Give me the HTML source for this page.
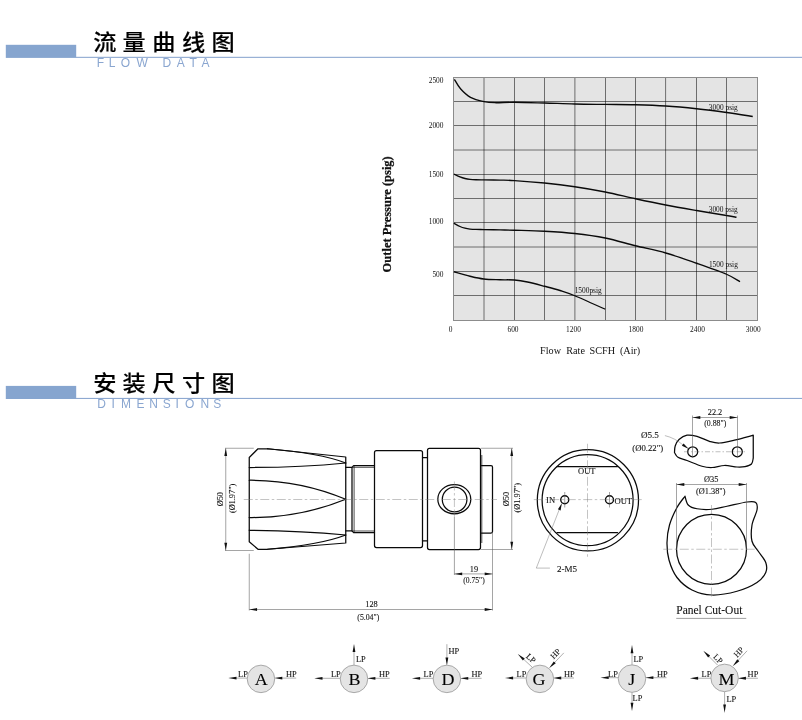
<!DOCTYPE html>
<html lang="zh-CN">
<head>
<meta charset="utf-8">
<title>流量曲线图 / 安装尺寸图</title>
<style>
html,body{margin:0;padding:0;background:#fff;}
body{width:802px;height:720px;overflow:hidden;position:relative;font-family:"Liberation Serif","Noto Serif CJK SC",serif;}
svg{position:absolute;left:0;top:0;will-change:transform;}
svg text{font-family:"Liberation Serif",serif;fill:#111;}
svg text.zh{font-family:"Liberation Sans","Noto Sans CJK SC",sans-serif;font-weight:500;fill:#000;stroke:#000;stroke-width:0.15px}
svg text.en{font-family:"Liberation Sans",sans-serif;fill:#8aa6d0}
.k{stroke:#0a0a0a;stroke-width:1.25;fill:none;stroke-linejoin:round;stroke-linecap:round}
.m{stroke:#222;stroke-width:0.8;fill:none}
.t{stroke:#5a5a5a;stroke-width:0.55;fill:none}
.c{stroke:#7a7a7a;stroke-width:0.45;fill:none;stroke-dasharray:9 2.5 2.5 2.5}
.c2{stroke:#707070;stroke-width:0.45;fill:none;stroke-dasharray:5 2 1.5 2}
.g{stroke:#000;stroke-opacity:0.52;stroke-width:1;fill:none}
.gb{stroke:#8c8c8c;stroke-width:1;fill:none}
.cv{stroke:#0a0a0a;stroke-width:1.35;fill:none;stroke-linecap:butt}
.b{font-weight:bold;stroke:#111;stroke-width:0.25px}
.l{stroke:#7a7a7a;stroke-width:0.5;fill:none}
#side text,#front text,#bracket text,#panel text,#symbols text{stroke:#111;stroke-width:0.1px}
.u{stroke:#777;stroke-width:0.7;fill:none}
.s{stroke:#777;stroke-width:0.6;fill:none}
svg text.big{fill:#000}
</style>
</head>
<body>
<svg width="802" height="720" viewBox="0 0 802 720">

<g class="hdr">
<rect x="5.8" y="44.80" width="70.4" height="13.1" fill="#86a5cf"/>
<rect x="76" y="56.80" width="726" height="1.1" fill="#8ea9d1"/>
<text class="zh" transform="translate(0 49.50) scale(1 0.925)" y="0" x="104.8 134.2 163.8 193.7 223.1" font-size="23.2" text-anchor="middle">流量曲线图</text>
<text class="en" y="66.80" x="100.4 112.1 125.3 142.1 154.0 166.9 180.8 193.1 205.4" font-size="12" text-anchor="middle" xml:space="preserve">FLOW DATA</text>
</g>
<g class="hdr">
<rect x="5.8" y="385.90" width="70.4" height="13.1" fill="#86a5cf"/>
<rect x="76" y="397.90" width="726" height="1.1" fill="#8ea9d1"/>
<text class="zh" transform="translate(0 391.30) scale(1 0.925)" y="0" x="104.8 134.2 163.8 193.7 223.1" font-size="23.2" text-anchor="middle">安装尺寸图</text>
<text class="en" y="408.00" x="101.5 113.2 126.0 140.4 153.5 166.7 177.2 189.6 204.8 217.3" font-size="12" text-anchor="middle" xml:space="preserve">DIMENSIONS</text>
</g>
<g id="chart">
<rect x="453.50" y="77.50" width="304.00" height="243.00" fill="#e4e4e4"/>
<line x1="484.00" y1="77.50" x2="484.00" y2="320.50" class="g"/>
<line x1="514.50" y1="77.50" x2="514.50" y2="320.50" class="g"/>
<line x1="544.50" y1="77.50" x2="544.50" y2="320.50" class="g"/>
<line x1="574.90" y1="77.50" x2="574.90" y2="320.50" class="g"/>
<line x1="605.50" y1="77.50" x2="605.50" y2="320.50" class="g"/>
<line x1="635.50" y1="77.50" x2="635.50" y2="320.50" class="g"/>
<line x1="665.60" y1="77.50" x2="665.60" y2="320.50" class="g"/>
<line x1="696.50" y1="77.50" x2="696.50" y2="320.50" class="g"/>
<line x1="726.50" y1="77.50" x2="726.50" y2="320.50" class="g"/>
<line x1="453.50" y1="101.50" x2="757.50" y2="101.50" class="g"/>
<line x1="453.50" y1="125.50" x2="757.50" y2="125.50" class="g"/>
<line x1="453.50" y1="150.00" x2="757.50" y2="150.00" class="g"/>
<line x1="453.50" y1="174.50" x2="757.50" y2="174.50" class="g"/>
<line x1="453.50" y1="198.50" x2="757.50" y2="198.50" class="g"/>
<line x1="453.50" y1="222.50" x2="757.50" y2="222.50" class="g"/>
<line x1="453.50" y1="247.00" x2="757.50" y2="247.00" class="g"/>
<line x1="453.50" y1="271.50" x2="757.50" y2="271.50" class="g"/>
<line x1="453.50" y1="295.50" x2="757.50" y2="295.50" class="g"/>
<rect x="453.50" y="77.50" width="304.00" height="243.00" class="gb"/>
<path d="M454.40,79.30 C455.42,80.88 457.82,85.75 460.50,88.75 C463.18,91.75 466.58,95.16 470.50,97.30 C474.42,99.44 479.92,100.70 484.00,101.60 C488.08,102.50 489.92,102.59 495.00,102.70 C500.08,102.81 506.25,102.20 514.50,102.25 C522.75,102.30 534.46,102.71 544.50,103.00 C554.54,103.29 564.62,103.77 574.75,104.00 C584.88,104.23 595.12,104.28 605.25,104.40 C615.38,104.53 625.42,104.48 635.50,104.75 C645.58,105.02 655.58,105.33 665.75,106.00 C675.92,106.67 686.38,107.67 696.50,108.75 C706.62,109.83 717.12,111.21 726.50,112.50 C735.88,113.79 748.38,115.83 752.75,116.50" class="cv"/>
<path d="M453.80,174.00 C454.83,174.48 458.13,176.15 460.00,176.90 C461.87,177.65 463.33,178.09 465.00,178.50 C466.67,178.91 468.17,179.14 470.00,179.35 C471.83,179.56 473.67,179.66 476.00,179.75 C478.33,179.84 480.00,179.84 484.00,179.90 C488.00,179.96 494.92,179.99 500.00,180.10 C505.08,180.21 507.08,180.07 514.50,180.55 C521.92,181.03 534.46,181.97 544.50,183.00 C554.54,184.03 564.62,185.25 574.75,186.75 C584.88,188.25 595.12,190.00 605.25,192.00 C615.38,194.00 625.42,196.58 635.50,198.75 C645.58,200.92 655.58,203.04 665.75,205.00 C675.92,206.96 686.38,208.75 696.50,210.50 C706.62,212.25 719.83,214.38 726.50,215.50 C733.17,216.62 734.83,216.96 736.50,217.25" class="cv"/>
<path d="M453.80,223.20 C454.83,223.75 458.13,225.67 460.00,226.50 C461.87,227.33 463.33,227.77 465.00,228.20 C466.67,228.62 468.17,228.84 470.00,229.05 C471.83,229.26 473.67,229.36 476.00,229.45 C478.33,229.54 480.00,229.53 484.00,229.60 C488.00,229.67 494.92,229.74 500.00,229.85 C505.08,229.96 507.08,230.02 514.50,230.25 C521.92,230.48 534.46,230.71 544.50,231.25 C554.54,231.79 564.62,232.38 574.75,233.50 C584.88,234.62 595.12,235.96 605.25,238.00 C615.38,240.04 625.42,243.25 635.50,245.75 C645.58,248.25 655.58,250.08 665.75,253.00 C675.92,255.92 686.38,259.71 696.50,263.25 C706.62,266.79 719.25,271.17 726.50,274.25 C733.75,277.33 737.75,280.50 740.00,281.75" class="cv"/>
<path d="M453.75,271.75 C456.46,272.50 465.00,275.04 470.00,276.25 C475.00,277.46 478.75,278.42 483.75,279.00 C488.75,279.58 494.88,279.58 500.00,279.75 C505.12,279.92 509.92,279.62 514.50,280.00 C519.08,280.38 522.50,280.96 527.50,282.00 C532.50,283.04 539.08,284.83 544.50,286.25 C549.92,287.67 554.96,288.92 560.00,290.50 C565.04,292.08 567.21,292.62 574.75,295.75 C582.29,298.88 600.17,307.00 605.25,309.25" class="cv"/>
<text x="723.30" y="109.50" font-size="7.4" text-anchor="middle" >3000 psig</text>
<text x="723.20" y="211.50" font-size="7.4" text-anchor="middle" >3000 psig</text>
<text x="723.40" y="266.75" font-size="7.4" text-anchor="middle" >1500 psig</text>
<text x="588.20" y="293.00" font-size="7.4" text-anchor="middle" >1500psig</text>
<text x="443.50" y="82.50" font-size="7.4" text-anchor="end" >2500</text>
<text x="443.50" y="127.50" font-size="7.4" text-anchor="end" >2000</text>
<text x="443.50" y="176.75" font-size="7.4" text-anchor="end" >1500</text>
<text x="443.50" y="224.00" font-size="7.4" text-anchor="end" >1000</text>
<text x="443.50" y="276.50" font-size="7.4" text-anchor="end" >500</text>
<text x="450.50" y="332.00" font-size="7.4" text-anchor="middle" >0</text>
<text x="513.00" y="332.00" font-size="7.4" text-anchor="middle" >600</text>
<text x="573.50" y="332.00" font-size="7.4" text-anchor="middle" >1200</text>
<text x="636.00" y="332.00" font-size="7.4" text-anchor="middle" >1800</text>
<text x="697.50" y="332.00" font-size="7.4" text-anchor="middle" >2400</text>
<text x="753.25" y="332.00" font-size="7.4" text-anchor="middle" >3000</text>
<text y="354.4" font-size="10.2" text-anchor="start"><tspan x="540.1">Flow</tspan> <tspan x="566.3">Rate</tspan> <tspan x="589.6">SCFH</tspan> <tspan x="619.9">(Air)</tspan></text>
<text x="390.60" y="214.30" font-size="12.5" text-anchor="middle" transform="rotate(-90 390.60 214.30)" class="b" >Outlet Pressure (psig)</text>
</g>
<g id="side">
<path class="k" d="M249.25,457.5 L258,448.75 L267.5,448.75 L345.75,457 L345.75,543 L267.5,549.25 L258,549.25 L249.25,541.75 Z"/>
<path class="k" d="M249.25,467.5 Q300,467.5 345.75,463"/>
<path class="k" d="M267.5,448.75 Q320,453 345.75,463"/>
<path class="k" d="M249.25,480.25 Q300,480 345.75,499.25 Q300,518 249.25,517.5"/>
<path class="k" d="M249.25,530.25 Q300,530.5 345.75,535"/>
<path class="k" d="M267.5,549.25 Q320,545 345.75,535"/>
<path class="k" d="M345.75,467.4 H352 M345.75,530.9 H352"/>
<path class="k" d="M352,467.4 L353.6,465.6 H374.5 M352,530.9 L353.6,532.6 H374.5 M352,467.4 V530.9"/>
<path class="m" d="M354.1,466 V532 M353,467.3 H374.5 M353,531 H374.5"/>
<rect class="k" x="374.5" y="450.5" width="48" height="97" rx="2"/>
<path class="k" d="M422.5,457.5 H427.5 M422.5,540.75 H427.5"/>
<rect class="k" x="427.5" y="448.25" width="53" height="101.25" rx="2"/>
<path class="m" d="M481.8,455 V543"/>
<path class="k" d="M481.5,465.5 H491 Q492.5,465.5 492.5,467 V531.5 Q492.5,533 491,533 H481.5"/>
<ellipse class="k" cx="454.3" cy="499.2" rx="16.5" ry="14.6"/>
<circle class="k" cx="454.6" cy="499.5" r="12.3"/>
<line x1="243.75" y1="499.50" x2="497.00" y2="499.50" class="c"/>
<line x1="225.00" y1="448.25" x2="253.75" y2="448.25" class="t"/>
<line x1="225.00" y1="550.50" x2="253.75" y2="550.50" class="t"/>
<line x1="225.75" y1="448.25" x2="225.75" y2="550.50" class="t"/>
<polygon points="225.75,448.25 227.15,456.05 224.35,456.05" fill="#111"/>
<polygon points="225.75,550.50 224.35,542.70 227.15,542.70" fill="#111"/>
<text x="223.10" y="499.20" font-size="8.3" text-anchor="middle" transform="rotate(-90 223.10 499.20)" >Ø50</text>
<text x="235.30" y="498.40" font-size="8.3" text-anchor="middle" transform="rotate(-90 235.30 498.40)" >(Ø1.97")</text>
<line x1="481.00" y1="448.25" x2="513.00" y2="448.25" class="t"/>
<line x1="481.00" y1="549.50" x2="513.00" y2="549.50" class="t"/>
<line x1="511.75" y1="448.25" x2="511.75" y2="549.50" class="t"/>
<polygon points="511.75,448.25 513.15,456.05 510.35,456.05" fill="#111"/>
<polygon points="511.75,549.50 510.35,541.70 513.15,541.70" fill="#111"/>
<text x="509.00" y="499.00" font-size="8.3" text-anchor="middle" transform="rotate(-90 509.00 499.00)" >Ø50</text>
<text x="519.80" y="497.70" font-size="8.3" text-anchor="middle" transform="rotate(-90 519.80 497.70)" >(Ø1.97")</text>
<line x1="454.40" y1="481.50" x2="454.40" y2="517.00" class="c"/>
<line x1="454.40" y1="517.00" x2="454.40" y2="575.00" class="t"/>
<line x1="492.50" y1="533.00" x2="492.50" y2="610.50" class="t"/>
<line x1="454.40" y1="573.90" x2="492.50" y2="573.90" class="t"/>
<polygon points="454.40,573.90 462.20,572.50 462.20,575.30" fill="#111"/>
<polygon points="492.50,573.90 484.70,575.30 484.70,572.50" fill="#111"/>
<text x="474.00" y="571.75" font-size="8.3" text-anchor="middle" >19</text>
<text x="474.00" y="583.25" font-size="7.6" text-anchor="middle" >(0.75")</text>
<line x1="249.25" y1="553.75" x2="249.25" y2="610.50" class="t"/>
<line x1="249.25" y1="609.50" x2="492.50" y2="609.50" class="t"/>
<polygon points="249.25,609.50 257.05,608.10 257.05,610.90" fill="#111"/>
<polygon points="492.50,609.50 484.70,610.90 484.70,608.10" fill="#111"/>
<text x="371.50" y="607.00" font-size="8.3" text-anchor="middle" >128</text>
<text x="368.30" y="619.50" font-size="7.8" text-anchor="middle" >(5.04")</text>
</g>
<g id="front">
<circle class="k" cx="587.9" cy="500.3" r="50.6"/>
<circle class="k" cx="587.6" cy="500.2" r="45.5"/>
<path class="k" d="M557,466.5 H617.5 M557,532.5 H617.5"/>
<circle class="k" cx="564.75" cy="499.75" r="4.0" style="stroke-width:1.4"/>
<circle class="k" cx="609.5" cy="499.75" r="4.0" style="stroke-width:1.4"/>
<line x1="587.50" y1="443.75" x2="587.50" y2="557.50" class="c"/>
<line x1="533.75" y1="499.60" x2="642.50" y2="499.60" class="c"/>
<line x1="564.75" y1="492.00" x2="564.75" y2="507.50" class="t"/>
<line x1="609.50" y1="492.00" x2="609.50" y2="507.50" class="t"/>
<text x="586.75" y="473.75" font-size="8.5" text-anchor="middle" >OUT</text>
<text x="550.60" y="503.00" font-size="8.5" text-anchor="middle" >IN</text>
<text x="623.30" y="503.75" font-size="8.6" text-anchor="middle" >OUT</text>
<path class="l" d="M561.25,504.5 L536.3,568.1 H549.9"/>
<polygon points="561.90,503.20 560.60,510.43 557.90,509.36" fill="#111"/>
<text x="566.90" y="572.20" font-size="9.0" text-anchor="middle" >2-M5</text>
</g>
<g id="bracket">
<path class="k" d="M674.50,452.50 C674.62,451.42 674.45,448.17 675.20,446.00 C675.95,443.83 677.03,441.30 679.00,439.50 C680.97,437.70 684.00,435.72 687.00,435.20 C690.00,434.68 693.25,435.38 697.00,436.40 C700.75,437.42 705.75,440.20 709.50,441.30 C713.25,442.40 715.33,443.18 719.50,443.00 C723.67,442.82 728.88,441.50 734.50,440.20 C740.12,438.90 750.12,436.03 753.25,435.20 L753.25,458 L753.25,458.00 C752.96,459.00 752.88,462.57 751.50,464.00 C750.12,465.43 747.42,466.10 745.00,466.60 C742.58,467.10 740.42,467.18 737.00,467.00 C733.58,466.82 728.67,465.42 724.50,465.50 C720.33,465.58 715.75,467.38 712.00,467.50 C708.25,467.62 706.17,467.42 702.00,466.25 C697.83,465.08 691.00,461.99 687.00,460.50 C683.00,459.01 680.08,458.63 678.00,457.30 C675.92,455.97 675.08,453.30 674.50,452.50"/>
<circle class="k" cx="692.7" cy="451.75" r="5.0"/>
<circle class="k" cx="737.3" cy="451.75" r="5.0"/>
<line x1="684.00" y1="451.75" x2="745.00" y2="451.75" class="c2"/>
<line x1="692.50" y1="415.50" x2="692.50" y2="457.50" class="t"/>
<line x1="737.50" y1="415.50" x2="737.50" y2="457.50" class="t"/>
<line x1="692.50" y1="417.50" x2="737.50" y2="417.50" class="t"/>
<polygon points="692.50,417.50 700.30,416.10 700.30,418.90" fill="#111"/>
<polygon points="737.50,417.50 729.70,418.90 729.70,416.10" fill="#111"/>
<text x="715.00" y="415.00" font-size="8.3" text-anchor="middle" >22.2</text>
<text x="715.25" y="425.75" font-size="7.8" text-anchor="middle" >(0.88")</text>
<text x="649.90" y="438.25" font-size="9.1" text-anchor="middle" >Ø5.5</text>
<text x="647.70" y="450.75" font-size="8.7" text-anchor="middle" >(Ø0.22")</text>
<path class="l" d="M664.9,435.6 Q675,438 683,445"/>
<polygon points="688.80,449.10 681.88,445.86 683.58,443.52" fill="#111"/>
</g>
<g id="panel">
<path class="k" d="M685.00,496.25 C683.67,498.12 679.58,502.71 677.00,507.50 C674.42,512.29 671.17,519.17 669.50,525.00 C667.83,530.83 667.08,536.67 667.00,542.50 C666.92,548.33 667.33,554.17 669.00,560.00 C670.67,565.83 673.17,572.50 677.00,577.50 C680.83,582.50 686.17,587.08 692.00,590.00 C697.83,592.92 704.50,594.79 712.00,595.00 C719.50,595.21 729.50,593.33 737.00,591.25 C744.50,589.17 752.21,585.62 757.00,582.50 C761.79,579.38 764.29,575.83 765.75,572.50 C767.21,569.17 767.00,566.04 765.75,562.50 C764.50,558.96 760.54,554.79 758.25,551.25 C755.96,547.71 753.04,545.62 752.00,541.25 C750.96,536.88 751.17,530.21 752.00,525.00 C752.83,519.79 756.38,513.75 757.00,510.00 C757.62,506.25 757.42,503.83 755.75,502.50 C754.08,501.17 751.79,501.38 747.00,502.00 C742.21,502.62 732.83,505.04 727.00,506.25 C721.17,507.46 717.00,508.83 712.00,509.25 C707.00,509.67 700.96,509.46 697.00,508.75 C693.04,508.04 690.25,507.08 688.25,505.00 C686.25,502.92 685.54,497.71 685.00,496.25"/>
<circle class="k" cx="711.5" cy="549.25" r="35"/>
<line x1="663.25" y1="549.25" x2="758.25" y2="549.25" class="c"/>
<line x1="711.50" y1="505.00" x2="711.50" y2="597.50" class="c"/>
<line x1="676.50" y1="483.00" x2="676.50" y2="550.00" class="t"/>
<line x1="746.50" y1="483.00" x2="746.50" y2="550.00" class="t"/>
<line x1="676.50" y1="484.50" x2="746.50" y2="484.50" class="t"/>
<polygon points="676.50,484.50 684.30,483.10 684.30,485.90" fill="#111"/>
<polygon points="746.50,484.50 738.70,485.90 738.70,483.10" fill="#111"/>
<text x="711.25" y="482.00" font-size="8.3" text-anchor="middle" >Ø35</text>
<text x="710.75" y="493.80" font-size="8.3" text-anchor="middle" >(Ø1.38")</text>
<text transform="translate(709.3 614.3) scale(1 1.09)" font-size="11.5" text-anchor="middle">Panel Cut-Out</text>
<line x1="676.25" y1="618.40" x2="746.25" y2="618.40" class="u"/>
</g>
<g id="symbols">
<line x1="235.50" y1="678.10" x2="247.20" y2="678.10" class="s"/>
<polygon points="228.30,678.10 236.50,676.70 236.50,679.50" fill="#111"/>
<text x="238.10" y="676.85" font-size="8.4" text-anchor="start" >LP</text>
<line x1="281.90" y1="678.10" x2="296.20" y2="678.10" class="s"/>
<polygon points="274.10,678.10 282.30,676.70 282.30,679.50" fill="#111"/>
<text x="285.90" y="676.85" font-size="8.4" text-anchor="start" >HP</text>
<circle cx="260.95" cy="678.90" r="13.75" fill="#e4e4e4" stroke="#8a8a8a" stroke-width="0.7"/>
<text transform="translate(261.20 685.25) scale(1 0.93)" font-size="18" text-anchor="middle" class="big">A</text>
<line x1="321.50" y1="678.30" x2="340.25" y2="678.30" class="s"/>
<polygon points="314.30,678.30 322.50,676.90 322.50,679.70" fill="#111"/>
<text x="331.00" y="676.85" font-size="8.4" text-anchor="start" >LP</text>
<line x1="374.95" y1="678.30" x2="389.70" y2="678.30" class="s"/>
<polygon points="367.15,678.30 375.35,676.90 375.35,679.70" fill="#111"/>
<text x="378.90" y="676.85" font-size="8.4" text-anchor="start" >HP</text>
<line x1="354.00" y1="665.15" x2="354.00" y2="651.10" class="s"/>
<polygon points="354.00,643.90 355.40,652.10 352.60,652.10" fill="#111"/>
<text x="355.90" y="661.90" font-size="8.4" text-anchor="start" >LP</text>
<circle cx="354.00" cy="678.90" r="13.75" fill="#e4e4e4" stroke="#8a8a8a" stroke-width="0.7"/>
<text transform="translate(354.40 685.35) scale(1 0.93)" font-size="18" text-anchor="middle" class="big">B</text>
<line x1="419.10" y1="678.30" x2="433.15" y2="678.30" class="s"/>
<polygon points="411.90,678.30 420.10,676.90 420.10,679.70" fill="#111"/>
<text x="423.60" y="676.85" font-size="8.4" text-anchor="start" >LP</text>
<line x1="467.85" y1="678.30" x2="481.60" y2="678.30" class="s"/>
<polygon points="460.05,678.30 468.25,676.90 468.25,679.70" fill="#111"/>
<text x="471.50" y="676.85" font-size="8.4" text-anchor="start" >HP</text>
<line x1="446.90" y1="644.20" x2="446.90" y2="657.95" class="s"/>
<polygon points="446.90,665.75 445.50,657.55 448.30,657.55" fill="#111"/>
<text x="448.40" y="653.50" font-size="8.4" text-anchor="start" >HP</text>
<circle cx="446.90" cy="678.90" r="13.75" fill="#e4e4e4" stroke="#8a8a8a" stroke-width="0.7"/>
<text transform="translate(448.00 685.45) scale(1 0.93)" font-size="18" text-anchor="middle" class="big">D</text>
<line x1="512.10" y1="678.00" x2="526.15" y2="678.00" class="s"/>
<polygon points="504.90,678.00 513.10,676.60 513.10,679.40" fill="#111"/>
<text x="516.60" y="676.85" font-size="8.4" text-anchor="start" >LP</text>
<line x1="560.85" y1="678.00" x2="574.00" y2="678.00" class="s"/>
<polygon points="553.05,678.00 561.25,676.60 561.25,679.40" fill="#111"/>
<text x="563.90" y="676.85" font-size="8.4" text-anchor="start" >HP</text>
<line x1="532.40" y1="667.40" x2="523.09" y2="658.79" class="s"/>
<polygon points="517.80,653.90 524.77,658.44 522.87,660.49" fill="#111"/>
<text x="531.10" y="658.30" font-size="8.4" text-anchor="middle" transform="rotate(42.8 531.10 658.30)" dy="2.8">LP</text>
<line x1="563.80" y1="652.90" x2="554.07" y2="663.09" class="s"/>
<polygon points="549.10,668.30 553.75,661.40 555.77,663.34" fill="#111"/>
<text x="555.40" y="653.70" font-size="8.4" text-anchor="middle" transform="rotate(-46.3 555.40 653.70)" dy="2.8">HP</text>
<circle cx="539.90" cy="678.90" r="13.75" fill="#e4e4e4" stroke="#8a8a8a" stroke-width="0.7"/>
<text transform="translate(538.90 685.35) scale(1 0.93)" font-size="18" text-anchor="middle" class="big">G</text>
<line x1="607.70" y1="677.70" x2="618.25" y2="677.70" class="s"/>
<polygon points="600.50,677.70 608.70,676.30 608.70,679.10" fill="#111"/>
<text x="608.10" y="676.85" font-size="8.4" text-anchor="start" >LP</text>
<line x1="652.95" y1="677.70" x2="666.50" y2="677.70" class="s"/>
<polygon points="645.15,677.70 653.35,676.30 653.35,679.10" fill="#111"/>
<text x="656.90" y="676.85" font-size="8.4" text-anchor="start" >HP</text>
<line x1="632.00" y1="664.85" x2="632.00" y2="652.30" class="s"/>
<polygon points="632.00,645.10 633.40,653.30 630.60,653.30" fill="#111"/>
<text x="633.40" y="662.30" font-size="8.4" text-anchor="start" >LP</text>
<line x1="632.00" y1="692.35" x2="632.00" y2="703.70" class="s"/>
<polygon points="632.00,710.90 630.60,702.70 633.40,702.70" fill="#111"/>
<text x="632.60" y="700.80" font-size="8.4" text-anchor="start" >LP</text>
<circle cx="632.00" cy="678.60" r="13.75" fill="#e4e4e4" stroke="#8a8a8a" stroke-width="0.7"/>
<text transform="translate(631.80 685.15) scale(1 0.93)" font-size="18" text-anchor="middle" class="big">J</text>
<line x1="697.10" y1="678.25" x2="710.85" y2="678.25" class="s"/>
<polygon points="689.90,678.25 698.10,676.85 698.10,679.65" fill="#111"/>
<text x="701.60" y="676.85" font-size="8.4" text-anchor="start" >LP</text>
<line x1="745.55" y1="678.25" x2="757.90" y2="678.25" class="s"/>
<polygon points="737.75,678.25 745.95,676.85 745.95,679.65" fill="#111"/>
<text x="747.60" y="676.85" font-size="8.4" text-anchor="start" >HP</text>
<line x1="724.60" y1="691.65" x2="724.60" y2="705.60" class="s"/>
<polygon points="724.60,712.80 723.20,704.60 726.00,704.60" fill="#111"/>
<text x="726.40" y="702.30" font-size="8.4" text-anchor="start" >LP</text>
<line x1="717.50" y1="665.00" x2="708.39" y2="655.89" class="s"/>
<polygon points="703.30,650.80 710.09,655.61 708.11,657.59" fill="#111"/>
<text x="718.20" y="658.75" font-size="8.4" text-anchor="middle" transform="rotate(45.0 718.20 658.75)" dy="2.8">LP</text>
<line x1="747.10" y1="650.80" x2="737.62" y2="660.94" class="s"/>
<polygon points="732.70,666.20 737.28,659.25 739.32,661.17" fill="#111"/>
<text x="738.75" y="652.10" font-size="8.4" text-anchor="middle" transform="rotate(-46.9 738.75 652.10)" dy="2.8">HP</text>
<circle cx="724.60" cy="677.90" r="13.75" fill="#e4e4e4" stroke="#8a8a8a" stroke-width="0.7"/>
<text transform="translate(726.40 685.35) scale(1 0.93)" font-size="18" text-anchor="middle" class="big">M</text>
</g>
</svg>
</body>
</html>
